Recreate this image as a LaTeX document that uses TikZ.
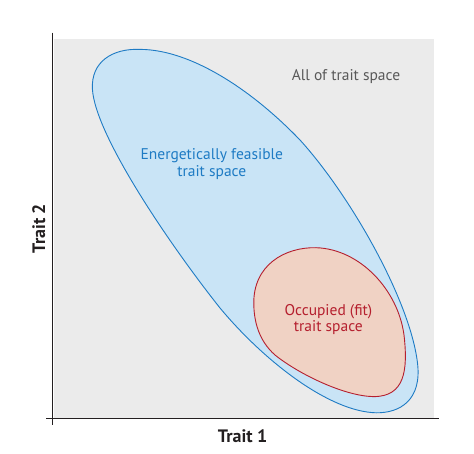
\documentclass[tikz,border=0pt]{standalone}
\usepackage{fontspec}
\setmainfont{PT Sans}
\definecolor{bgray}{HTML}{EBEBEB}
\definecolor{bluefill}{HTML}{C9E4F6}
\definecolor{bluestroke}{HTML}{1E7BC4}
\definecolor{redfill}{HTML}{F0D2C4}
\definecolor{redstroke}{HTML}{B51F2E}
\definecolor{graytext}{HTML}{595959}
\definecolor{axis}{HTML}{231F20}
\begin{document}
\begin{tikzpicture}[x=1pt,y=-1pt,
  lbl/.style={font=\fontsize{15.5}{16.5}\selectfont, align=center, inner sep=0pt},
  axlbl/.style={font=\fontsize{18}{20}\selectfont\bfseries, inner sep=0pt}]
\useasboundingbox (0,0) rectangle (474,454);
\fill[bgray] (53.8,38.7) rectangle (433.6,418.5);
% blue region
\draw[bluestroke, fill=bluefill, line width=0.9pt]
 (92.4,89) .. controls (91,62) and (112,48) .. (141,49.4)
 .. controls (190,50) and (250,88) .. (300,140)
 .. controls (350,195) and (410,300) .. (417.5,363)
 .. controls (422,400) and (400,413) .. (376.5,412.8)
 .. controls (330,412) and (265,362) .. (220,308)
 .. controls (170,245) and (95,135) .. (92.4,89) -- cycle;
% red region
\draw[redstroke, fill=redfill, line width=0.9pt]
 (253.8,304) .. controls (253,265) and (285,247) .. (316,247.7)
 .. controls (360,249) and (398,290) .. (404,335)
 .. controls (408,370) and (405,397) .. (373,396.6)
 .. controls (345,396) and (300,375) .. (275,355)
 .. controls (258,340) and (254,320) .. (253.8,304) -- cycle;
% axes
\coordinate (ytop) at (52.8,32.6);
\coordinate (ybot) at (52.8,425);
\coordinate (xl) at (46.4,418.8);
\coordinate (xr) at (439,418.8);
\draw[axis, line width=0.9pt] (ytop) -- (ybot);
\draw[axis, line width=0.9pt] (xl) -- (xr);
% labels
\node[lbl, text=graytext] (all) at (346,76.6) {All of trait space};
\node[lbl, text=bluestroke] (feas) at (211.8,164.2) {Energetically feasible\\trait space};
\node[lbl, text=redstroke] (occ) at (328.4,319.6) {Occupied (fit)\\trait space};
\node[axlbl, text=axis] (t1) at (242.7,436) {Trait 1};
\node[axlbl, text=axis, rotate=90] (t2) at (38.7,228.6) {Trait 2};
\end{tikzpicture}
\end{document}
